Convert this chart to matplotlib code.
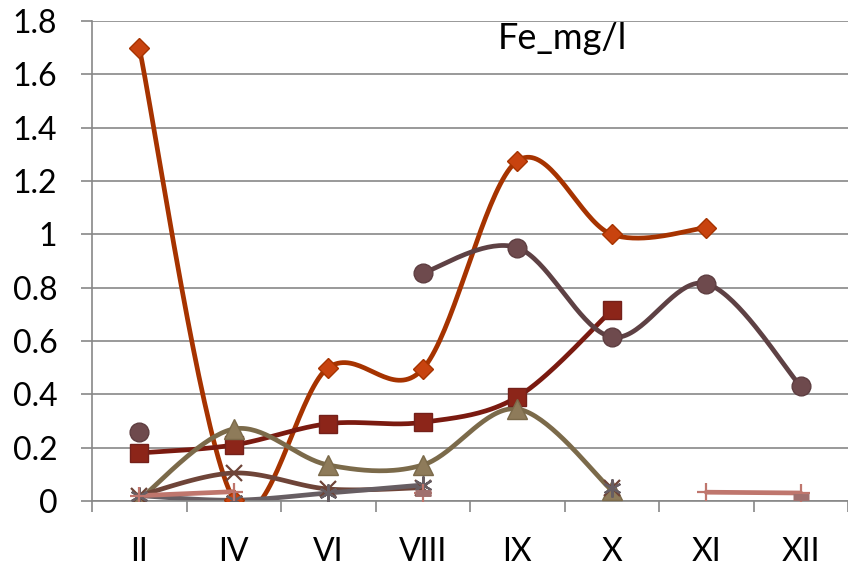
import matplotlib.pyplot as plt
import numpy as np

plt.rcParams['font.family'] = ['Lato', 'DejaVu Sans']

months = ["II", "IV", "VI", "VIII", "IX", "X", "XI", "XII"]

# Fe concentration, mg/l; None = no sample
fe_s1 = [1.70, 0.005, 0.50, 0.495, 1.275, 1.00, 1.025, None]
fe_s2 = [0.18, 0.21, 0.29, 0.295, 0.39, 0.715, None, None]
fe_s3 = [0.005, 0.27, 0.135, 0.135, 0.345, 0.04, None, None]
fe_s4 = [0.02, 0.105, 0.045, 0.05, None, 0.05, None, None]
fe_s5 = [0.02, 0.003, 0.03, 0.06, None, 0.05, None, None]
fe_s6 = [0.26, None, None, 0.855, 0.95, 0.615, 0.815, 0.43]
fe_s7 = [0.02, 0.035, None, 0.03, None, None, 0.033, 0.03]
fe_s8 = [None, None, None, 0.03, None, None, None, 0.015]


def smooth_run(xs, ys, n=40):
    # Excel-style smoothed line: cubic Bezier with Catmull-Rom control points
    pts = np.column_stack([xs, ys]).astype(float)
    if len(pts) < 2:
        return pts[:, 0], pts[:, 1]
    ext = np.vstack([pts[0], pts, pts[-1]])
    out = []
    t = np.linspace(0, 1, n)[:, None]
    for i in range(len(pts) - 1):
        p0, p1, p2, p3 = ext[i], ext[i + 1], ext[i + 2], ext[i + 3]
        c1 = p1 + (p2 - p0) / 6
        c2 = p2 - (p3 - p1) / 6
        seg = ((1 - t) ** 3 * p1 + 3 * (1 - t) ** 2 * t * c1
               + 3 * (1 - t) * t ** 2 * c2 + t ** 3 * p2)
        out.append(seg if i == 0 else seg[1:])
    out = np.vstack(out)
    return out[:, 0], out[:, 1]


def draw_series(ax, vals, color, marker, ms, mfc, mec, mew=1.0, lw=3.4, smooth=True):
    x = np.arange(len(vals))
    runs, cur = [], []
    for xi, v in zip(x, vals):
        if v is None:
            if cur:
                runs.append(cur)
            cur = []
        else:
            cur.append((xi, v))
    if cur:
        runs.append(cur)
    for r in runs:
        rx = [p[0] for p in r]
        ry = [p[1] for p in r]
        if len(r) > 1:
            if smooth:
                sx, sy = smooth_run(rx, ry)
            else:
                sx, sy = rx, ry
            ax.plot(sx, sy, color=color, lw=lw, solid_capstyle='round', zorder=2)
        ax.plot(rx, ry, ls='none', marker=marker, ms=ms, mfc=mfc, mec=mec,
                mew=mew, zorder=3)


fig = plt.figure(figsize=(8.48, 5.67), dpi=100)
ax = fig.add_axes([92 / 848, 66 / 567, 756 / 848, 480 / 567])

draw_series(ax, fe_s1, "#A63300", "D", 10, "#C8430F", "#A63300")
draw_series(ax, fe_s2, "#7A1A10", "s", 13, "#8C2519", "#74201A")
draw_series(ax, fe_s3, "#7B6A4A", "^", 14, "#8E7B5A", "#7B6A4A")
draw_series(ax, fe_s4, "#6E4438", "x", 11, "#6E4438", "#6E4438", mew=1.6)
draw_series(ax, fe_s5, "#675E63", (6, 2, 0), 13, "#675E63", "#675E63", mew=1.6)
draw_series(ax, fe_s6, "#5E4144", "o", 13.5, "#6E4A4D", "#5E3E41")
draw_series(ax, fe_s7, "#BF766D", "+", 13, "#BF766D", "#BF766D", mew=1.6,
            smooth=False)
draw_series(ax, fe_s8, "#A0706E", "_", 12, "#A0706E", "#A0706E", mew=5)

ax.set_xlim(-0.5, len(months) - 0.5)
ax.set_ylim(0, 1.8)
ax.set_yticks(np.arange(0, 1.81, 0.2))
ax.set_yticklabels(["0", "0.2", "0.4", "0.6", "0.8", "1", "1.2", "1.4", "1.6", "1.8"])
ax.set_xticks(np.arange(len(months)))
ax.set_xticklabels(months)
ax.set_xticks(np.arange(-0.5, len(months)), minor=True)

grid_col = "#878787"
ax.grid(axis='y', color=grid_col, lw=1.2)
ax.set_axisbelow(True)
for s in ("top", "right"):
    ax.spines[s].set_visible(False)
for s in ("left", "bottom"):
    ax.spines[s].set_color(grid_col)
    ax.spines[s].set_linewidth(1.2)

ax.tick_params(axis='y', length=8, width=1.2, color=grid_col, pad=17,
               labelsize=23)
ax.tick_params(axis='x', which='major', length=0, pad=26, labelsize=23)
ax.tick_params(axis='x', which='minor', length=8, width=1.2, color=grid_col)

ax.text(0.622, 0.963, "Fe_mg/l", transform=ax.transAxes, fontsize=26,
        ha='center', va='center')

plt.savefig("out.png", dpi=100)
